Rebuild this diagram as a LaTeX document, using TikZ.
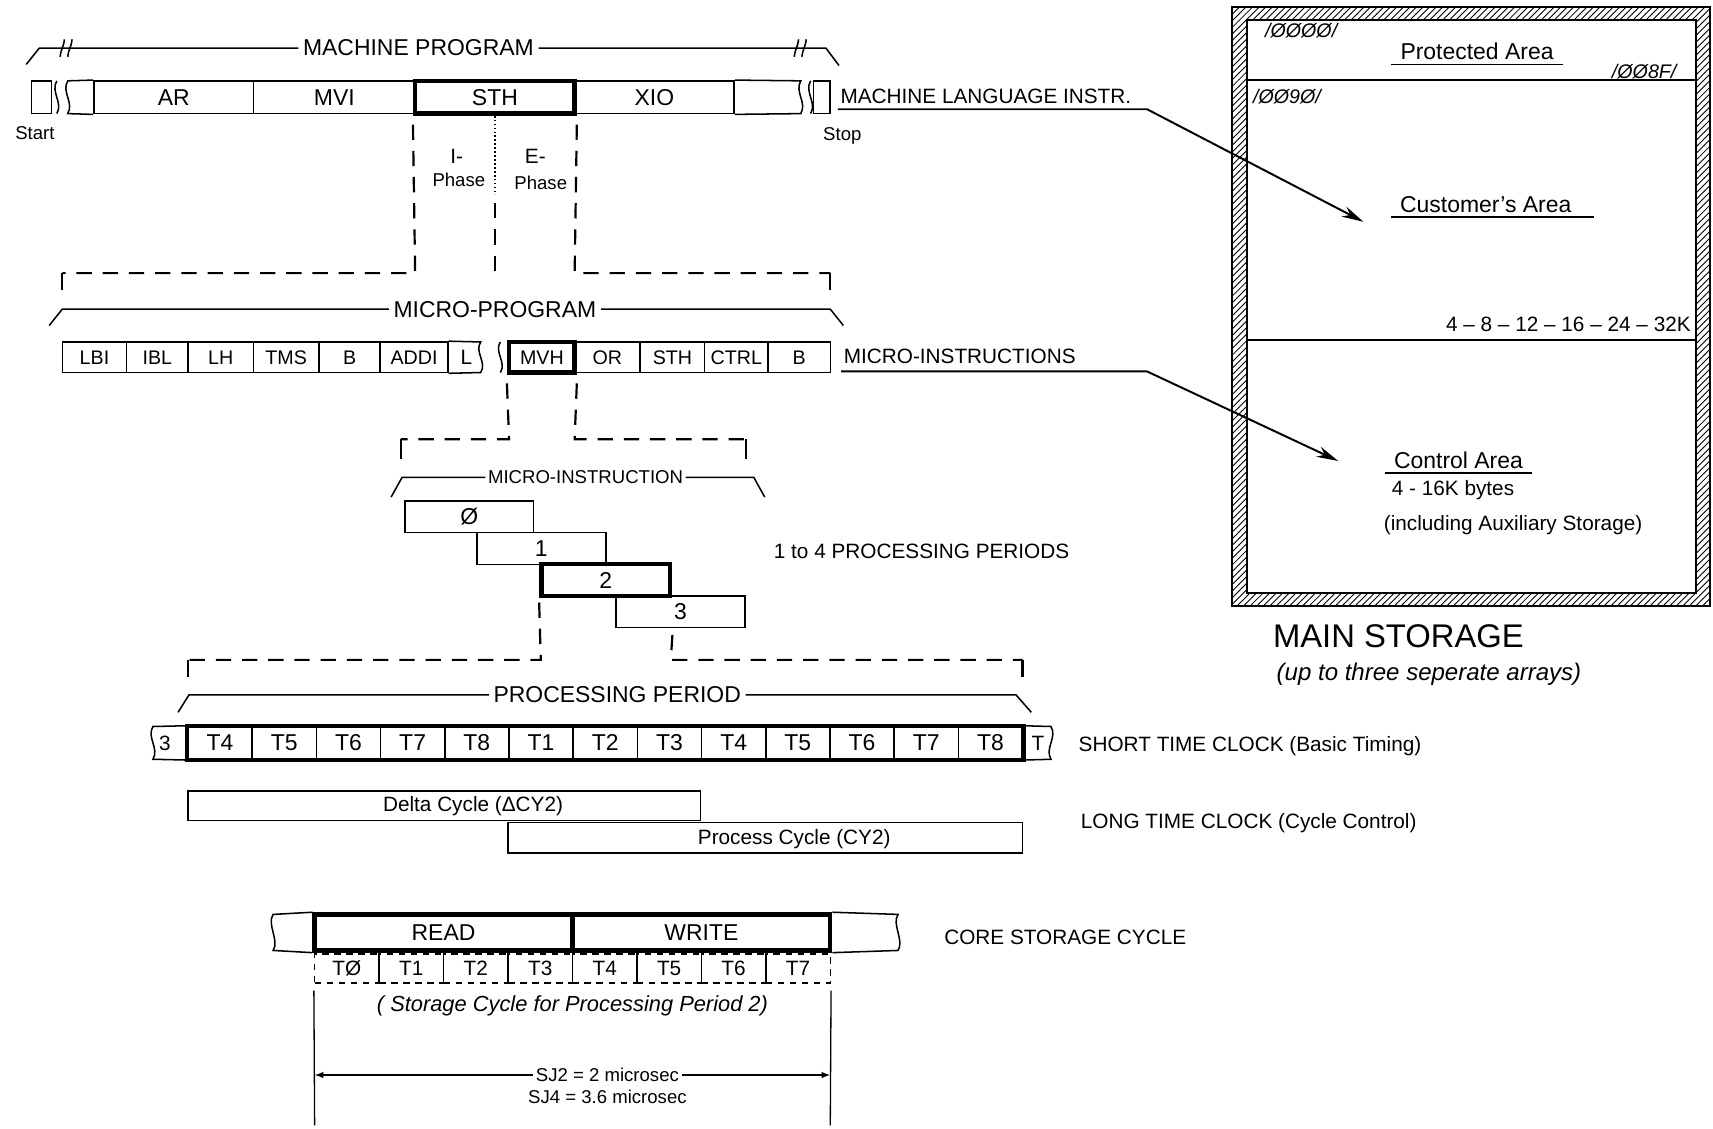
\documentclass[tikz,border=0pt]{standalone}
\usepackage{fontspec}
\setmainfont{Liberation Sans}
\usetikzlibrary{positioning,arrows.meta,patterns}
\tikzset{
  cell/.style={draw, line width=0.7pt, inner sep=0pt, minimum height=15pt, font=\fontsize{10.5}{12}\selectfont},
  boldcell/.style={cell, line width=2pt},
  mcell/.style={cell, minimum height=14pt, font=\fontsize{9}{11}\selectfont},
  tcell/.style={draw, line width=0.7pt, dash pattern=on 3pt off 2.5pt, inner sep=0pt, minimum width=29.5pt, minimum height=13.5pt, font=\fontsize{9.5}{11}\selectfont},
  stair/.style={draw, line width=0.7pt, inner sep=0pt, minimum width=59pt, minimum height=14.5pt, font=\fontsize{10.5}{12}\selectfont},
  title/.style={inner sep=2pt, font=\fontsize{10.5}{12}\selectfont},
  caption/.style={inner sep=1pt, font=\fontsize{9.5}{11}\selectfont},
  smallcap/.style={inner sep=1pt, font=\fontsize{8.5}{10}\selectfont},
  note/.style={inner sep=1pt, font=\itshape\fontsize{9}{11}\selectfont},
  brace/.style={line width=0.7pt},
  guide/.style={line width=1pt, dash pattern=on 7pt off 5pt},
  tick/.style={line width=1pt},
  wavy/.style={line width=0.7pt},
  pointer/.style={line width=0.9pt, -{Stealth[length=10pt, width=5pt]}},
  dimline/.style={line width=0.6pt, -{Latex[length=4pt, width=3pt]}},
  area/.style={draw, line width=0.9pt, inner sep=0pt, minimum width=205.5pt}
}

\begin{document}
\begin{tikzpicture}[x=0.5pt, y=-0.5pt]
\useasboundingbox (0,0) rectangle (1568,1033);

% machine program
\node[title] (mprog) at (383,44) {MACHINE PROGRAM};
\draw[brace] (24,59) -- (36,44) -- (mprog.west);
\draw[brace] (mprog.east) -- (756,44) -- (768,60);
\foreach \bx in {55,62,727,734}
  \draw[brace] (\bx,52) .. controls (\bx+1,44) and (\bx+3,44) .. (\bx+4,36);

\node[cell, minimum width=9pt] (startbox) at (38,89) {};
\node[cell, minimum width=73pt] (ar) at (159,89) {AR};
\node[cell, minimum width=74pt] (mvi) at (306,89) {MVI};
\node[boldcell, minimum width=73pt] (sth) at (453,89) {STH};
\node[cell, minimum width=73pt] (xio) at (599,89) {XIO};
\node[cell, minimum width=7.5pt] (stopbox) at (752,89) {};
\draw[wavy] (ar.north west) -- (62,74) .. controls (56,84) and (68,94) .. (62,104) -- (ar.south west);
\draw[wavy] (52,74) .. controls (46,84) and (58,94) .. (52,104);
\draw[wavy] (xio.north east) -- (733,74) .. controls (727,84) and (739,94) .. (733,104) -- (xio.south east);
\draw[wavy] (742,74) .. controls (736,84) and (748,94) .. (742,104);
\node[smallcap] (start) at (32,122) {Start};
\node[smallcap] (stop) at (771,124) {Stop};
\node[caption, anchor=west] (mli) at (767,88) {MACHINE LANGUAGE INSTR.};

% phases
\node[caption] (iph) at (418,143) {I-};
\node[smallcap] (iphase) at (420,165) {Phase};
\node[caption] (eph) at (490,143) {E-};
\node[smallcap] (ephase) at (495,167) {Phase};
\draw[guide] ([yshift=-4pt]sth.south west) -- (380,250) -- (57,250);
\draw[tick] (57,250) -- (57,265);
\draw[line width=0.8pt, densely dotted] (sth.south) -- (453,178);
\draw[guide] (453,186) -- (453,255);
\draw[guide] ([yshift=-4pt]sth.south east) -- (526,250) -- (760,250);
\draw[tick] (760,250) -- (760,265);

% micro program
\node[title] (microprog) at (453,283) {MICRO-PROGRAM};
\draw[brace] (45,298) -- (57,283) -- (microprog.west);
\draw[brace] (microprog.east) -- (760,283) -- (772,298);

\node[mcell, minimum width=29.5pt] (lbi) at (86.5,327) {LBI};
\node[mcell, minimum width=28pt] (ibl) at (144,327) {IBL};
\node[mcell, minimum width=30pt] (lh) at (202,327) {LH};
\node[mcell, minimum width=30pt] (tms) at (262,327) {TMS};
\node[mcell, minimum width=28pt] (bra) at (320,327) {B};
\node[mcell, minimum width=31pt] (addi) at (379,327) {ADDI};
\draw[wavy] (addi.north east) -- (440,313) .. controls (434,322) and (446,332) .. (440,341) -- (addi.south east);
\node[caption] (lpart) at (427,327) {L};
\draw[wavy] (458,313) .. controls (452,322) and (464,332) .. (458,341);
\node[mcell, line width=2pt, minimum width=30pt] (mvh) at (496,327) {MVH};
\node[mcell, minimum width=30pt] (orr) at (556,327) {OR};
\node[mcell, minimum width=29.5pt] (sthm) at (615.5,327) {STH};
\node[mcell, minimum width=29pt] (ctrl) at (674,327) {CTRL};
\node[mcell, minimum width=28.5pt] (brb) at (731.5,327) {B};
\node[caption, anchor=west] (mis) at (770,326) {MICRO-INSTRUCTIONS};

\draw[guide] ([yshift=-4pt]mvh.south west) -- (466,402) -- (367,402);
\draw[tick] (367,402) -- (367,420);
\draw[guide] ([yshift=-4pt]mvh.south east) -- (526,402) -- (683,402);
\draw[tick] (683,402) -- (683,420);

% micro instruction
\node[smallcap] (microins) at (536,437) {MICRO-INSTRUCTION};
\draw[brace] (358,455) -- (368,437) -- (microins.west);
\draw[brace] (microins.east) -- (690,437) -- (700,455);

\node[stair] (pp0) at (429.5,473) {Ø};
\node[stair] (pp1) at (495.5,502) {1};
\node[stair, line width=2pt] (pp2) at (554.5,531) {2};
\node[stair] (pp3) at (623,560) {3};
\node[caption, anchor=west] (pprange) at (706,505) {1 to 4 PROCESSING PERIODS};

\coordinate (pp3gap) at ([yshift=-3pt]pp3.south);
\draw[guide] ([yshift=-2pt]pp2.south west) -- (495,604) -- (172,604);
\draw[tick] (172,604) -- (172,620);
\draw[guide] (pp2.south east |- pp3gap) -- (614,604) -- (936,604);
\draw[tick] (936,604) -- (936,620);

% processing period
\node[title] (procper) at (565,636) {PROCESSING PERIOD};
\draw[brace] (163,652) -- (173,636) -- (procper.west);
\draw[brace] (procper.east) -- (930,636) -- (944,652);

\foreach \lab [count=\i] in {T4,T5,T6,T7,T8,T1,T2,T3,T4,T5,T6,T7,T8}
  \node[cell, minimum width=29.38pt] (ck\i) at ({172+58.77*(\i-0.5)},680) {\lab};
\draw[line width=2pt] (ck1.north west) rectangle (ck13.south east);
\draw[wavy] (ck1.north west) -- (140,665) .. controls (134,675) and (146,685) .. (140,695) -- (ck1.south west);
\node[caption] (ckprev) at (151,680) {3};
\draw[wavy] (ck13.north east) -- (962,665) .. controls (968,675) and (956,685) .. (962,695) -- (ck13.south east);
\node[caption] (cknext) at (950,680) {T};
\node[caption, anchor=west] (stc) at (985,683) {SHORT TIME CLOCK (Basic Timing)};

% long time clock
\node[cell, minimum width=234.5pt, minimum height=13.5pt] (dcyc) at (406.5,737.5) {};
\node[caption] (dcyctext) at (433,738) {Delta Cycle (ΔCY2)};
\node[cell, minimum width=235.5pt, minimum height=14pt] (pcyc) at (700.5,767) {};
\node[caption] (pcyctext) at (727,768) {Process Cycle (CY2)};
\node[caption, anchor=west] (ltc) at (987,753) {LONG TIME CLOCK (Cycle Control)};

% core storage cycle
\node[cell, line width=2pt, minimum width=118pt, minimum height=16.5pt] (read) at (406,853.5) {READ};
\node[cell, line width=2pt, minimum width=118pt, minimum height=16.5pt] (write) at (642,853.5) {WRITE};
\draw[wavy] (read.north west) -- (250,837) .. controls (244,846) and (256,861) .. (250,870) -- (read.south west);
\draw[wavy] (write.north east) -- (822,837) .. controls (816,846) and (828,861) .. (822,870) -- (write.south east);
\node[caption, anchor=west] (csc) at (862,858) {CORE STORAGE CYCLE};
\foreach \lab [count=\i] in {TØ,T1,T2,T3,T4,T5,T6,T7}
  \node[tcell] (tc\i) at ({288+59*(\i-0.5)},886.5) {\lab};
\node[note, font=\itshape\fontsize{10}{12}\selectfont] (sclabel) at (524,921) {( Storage Cycle for Processing Period 2)};
\coordinate (dimbl) at (288,1030);
\coordinate (dimbr) at (760,1030);
\draw[line width=0.6pt] ([yshift=-3pt]tc1.south west) -- (dimbl);
\draw[line width=0.6pt] ([yshift=-3pt]tc8.south east) -- (dimbr);
\node[smallcap] (sj2) at (556,984) {SJ2 = 2 microsec};
\node[smallcap] (sj4) at (556,1004) {SJ4 = 3.6 microsec};
\draw[dimline] (sj2.west) -- (sj2.west -| dimbl);
\draw[dimline] (sj2.east) -- (sj2.east -| dimbr);

% main storage
\fill[pattern=north east lines, even odd rule] (1128,6) rectangle (1565,555) (1141,18) rectangle (1552,543);
\draw[line width=0.9pt] (1128,6) rectangle (1565,555);
\node[area, minimum height=27.5pt] (protarea) at (1346.5,45.5) {};
\node[area, minimum height=119pt] (custarea) at (1346.5,192) {};
\node[area, minimum height=116pt] (ctrlarea) at (1346.5,427) {};

\node[note] (adr0) at (1191,28) {/ØØØØ/};
\node[title] (pa) at (1352,47) {Protected Area};
\draw[line width=0.8pt] ([xshift=-2pt]pa.south west) -- ([xshift=2pt]pa.south east);
\node[note] (adr8f) at (1505,66) {/ØØ8F/};
\node[note] (adr90) at (1178,88) {/ØØ9Ø/};
\node[title] (ca) at (1360,187) {Customer's Area};
\draw[line width=0.8pt] ([xshift=-2pt]ca.south west) -- ([xshift=8pt]ca.south east);
\node[caption, anchor=east] (sizes) at (1550,297) {4 -- 8 -- 12 -- 16 -- 24 -- 32K};
\node[title] (cta) at (1335,421) {Control Area};
\draw[line width=0.8pt] ([xshift=-2pt]cta.south west) -- ([xshift=2pt]cta.south east);
\node[caption] (ctsize) at (1330,449) {4 - 16K bytes};
\node[caption] (ctaux) at (1385,481) {(including Auxiliary Storage)};
\node[inner sep=1pt, font=\fontsize{15}{18}\selectfont] (ms) at (1280,582) {MAIN STORAGE};
\node[note, font=\itshape\fontsize{11}{13}\selectfont] (msnote) at (1308,617) {(up to three seperate arrays)};

% pointers into storage
\coordinate (custtip) at (1248,203);
\coordinate (ctrltip) at (1225,422);
\coordinate (mlibend) at (1050,100);
\coordinate (misbend) at (1050,340);
\draw[pointer] (mlibend -| mli.west) -- (mlibend) -- (custtip);
\draw[pointer] (misbend -| mis.west) -- (misbend) -- (ctrltip);
\end{tikzpicture}
\end{document}
